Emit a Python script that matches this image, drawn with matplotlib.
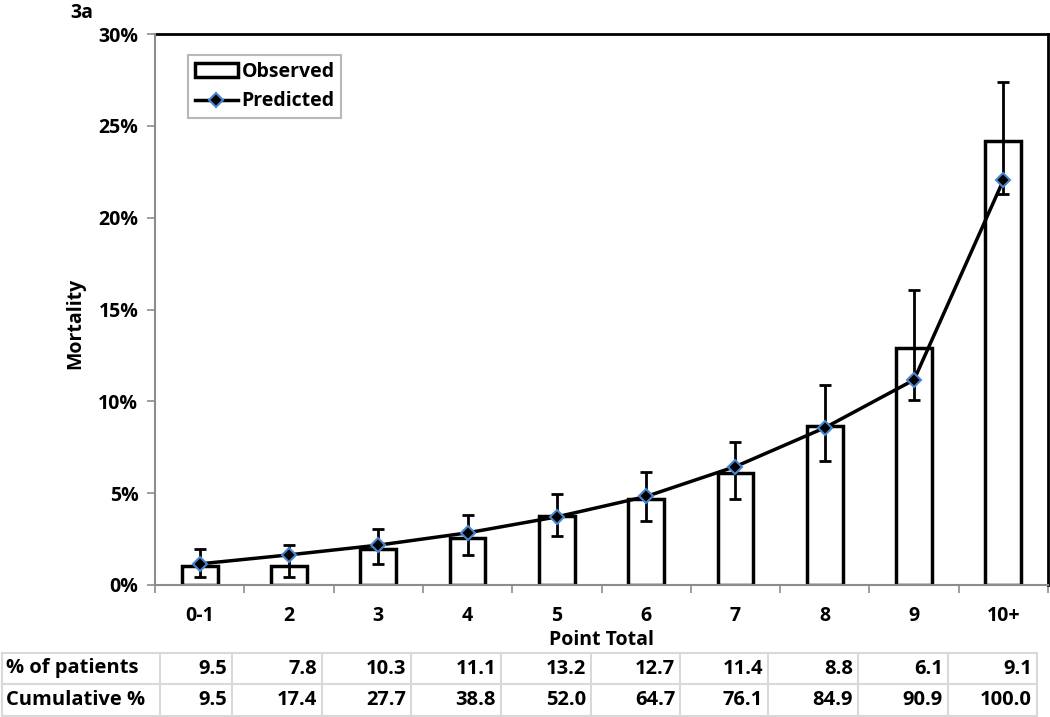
import matplotlib
matplotlib.use("Agg")
import matplotlib.pyplot as plt
from matplotlib.patches import Patch
from matplotlib.lines import Line2D
from matplotlib.ticker import PercentFormatter
import numpy as np

plt.rcParams['font.family'] = ['Open Sans', 'DejaVu Sans']
plt.rcParams['font.weight'] = 'bold'

categories = ["0-1", "2", "3", "4", "5", "6", "7", "8", "9", "10+"]
observed = [1.05, 1.05, 1.96, 2.58, 3.76, 4.69, 6.11, 8.66, 12.93, 24.2]
predicted = [1.15, 1.64, 2.17, 2.84, 3.71, 4.82, 6.45, 8.56, 11.17, 22.04]
ci_low = [0.44, 0.42, 1.15, 1.64, 2.67, 3.49, 4.67, 6.73, 10.09, 21.3]
ci_high = [1.96, 2.18, 3.07, 3.82, 4.96, 6.13, 7.80, 10.87, 16.04, 27.4]

row_labels = ["% of patients", "Cumulative %"]
pct_patients = ["9.5", "7.8", "10.3", "11.1", "13.2", "12.7", "11.4", "8.8", "6.1", "9.1"]
cumulative = ["9.5", "17.4", "27.7", "38.8", "52.0", "64.7", "76.1", "84.9", "90.9", "100.0"]

W, H = 1050, 717
fig = plt.figure(figsize=(W / 100, H / 100), dpi=100)
ax = fig.add_axes([155 / W, 1 - 585 / H, 893 / W, 551 / H])

x = np.arange(len(categories))
ax.bar(x, observed, width=0.4, color="white", edgecolor="black", linewidth=2.5, zorder=2)

# error bars
yerr = [np.array(predicted) - np.array(ci_low), np.array(ci_high) - np.array(predicted)]
ax.errorbar(x, predicted, yerr=yerr, fmt="none", ecolor="black", elinewidth=2,
            capsize=4, capthick=2, zorder=3)

ax.plot(x, predicted, color="black", linewidth=2.5, marker="D", markersize=7,
        markerfacecolor="black", markeredgecolor="#4a86cf", markeredgewidth=1.5, zorder=5)

ax.set_xlim(-0.5, 9.5)
ax.set_ylim(0, 30)
ax.set_yticks(np.arange(0, 31, 5))
ax.yaxis.set_major_formatter(PercentFormatter(decimals=0))
ax.set_xticks(x)
ax.set_xticklabels(categories)
ax.set_xticks(np.arange(-0.5, 10, 1), minor=True)
ax.tick_params(axis="x", which="major", length=0, pad=15, labelsize=14)
ax.tick_params(axis="x", which="minor", length=6, width=1.2, color="#8c8c8c", direction="out")
ax.tick_params(axis="y", length=6, width=1.2, color="#8c8c8c", labelsize=14, pad=6)

for s in ["left", "bottom"]:
    ax.spines[s].set_color("#8c8c8c")
    ax.spines[s].set_linewidth(1.5)
    ax.spines[s].set_zorder(6)
for s in ["top", "right"]:
    ax.spines[s].set_color("black")
    ax.spines[s].set_linewidth(2)

ax.set_ylabel("Mortality", fontsize=14, fontweight="bold")
ax.yaxis.set_label_coords(-0.078, 0.474)
ax.set_xlabel("Point Total", fontsize=14, fontweight="bold", labelpad=3)

handles = [Patch(facecolor="white", edgecolor="black", linewidth=2.5),
           Line2D([], [], color="black", linewidth=2.5, marker="D", markersize=7,
                  markerfacecolor="black", markeredgecolor="#4a86cf", markeredgewidth=1.5)]
leg = ax.legend(handles, ["Observed", "Predicted"], loc="upper left",
                bbox_to_anchor=(0.037, 0.962), borderaxespad=0, fontsize=14,
                frameon=True, fancybox=False, handlelength=2.2, handletextpad=0.2,
                borderpad=0.35, labelspacing=0.5)
leg.get_frame().set_edgecolor("#a6a6a6")
leg.get_frame().set_linewidth(1.5)

fig.text(70 / W, 1 - 13 / H, "3a", fontsize=14, fontweight="bold", va="center")

# table below the chart, in pixel coordinates
tab = fig.add_axes([0, 0, 1, 1], facecolor="none")
tab.set_xlim(0, W)
tab.set_ylim(H, 0)
tab.axis("off")
col_edges = [2, 160, 232, 322, 411, 501, 591, 680, 768, 858, 948, 1037]
row_edges = [653, 684, 716]
grid_c = "#d9d9d9"
for xe in col_edges:
    tab.plot([xe, xe], [row_edges[0], row_edges[-1]], color=grid_c, linewidth=1.5)
for ye in row_edges:
    tab.plot([col_edges[0], col_edges[-1]], [ye, ye], color=grid_c, linewidth=1.5)
for r, (lab, vals) in enumerate(zip(row_labels, [pct_patients, cumulative])):
    yc = (row_edges[r] + row_edges[r + 1]) / 2
    tab.text(col_edges[0] + 4, yc, lab, fontsize=14.5, fontweight="bold", va="center", ha="left")
    for c, v in enumerate(vals):
        tab.text(col_edges[c + 2] - 5, yc, v, fontsize=14.5, fontweight="bold",
                 va="center", ha="right")

fig.savefig("out.png", dpi=100)
